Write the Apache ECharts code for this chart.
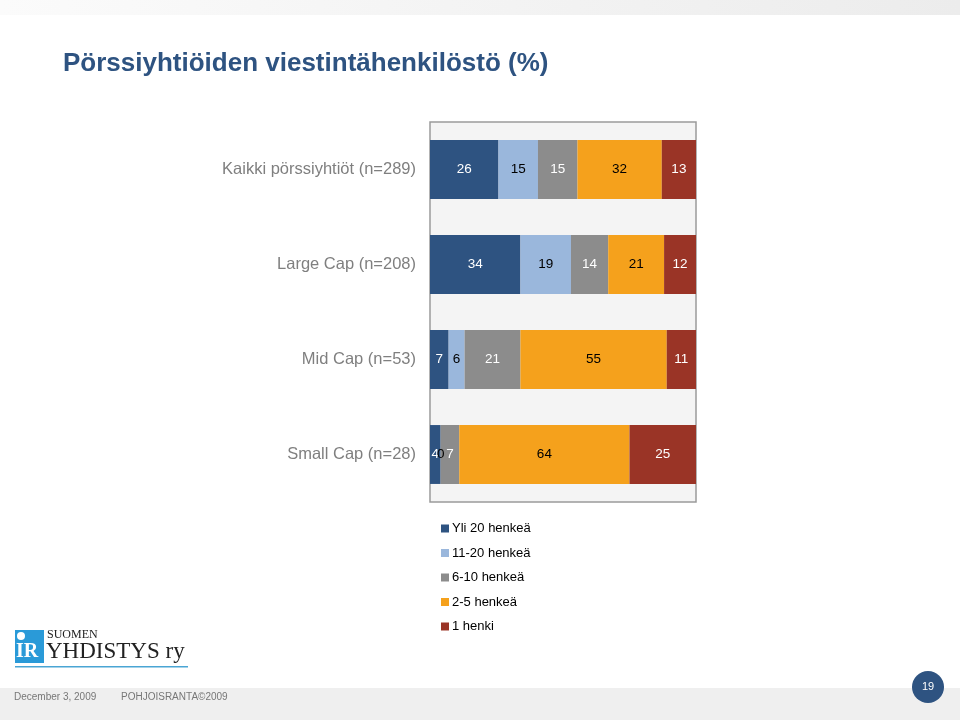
<!DOCTYPE html>
<html><head><meta charset="utf-8">
<script src="https://cdn.jsdelivr.net/npm/echarts@6/dist/echarts.min.js"></script>
<style>html,body{margin:0;padding:0;background:#fff}#c{width:960px;height:720px}</style>
</head><body><div id="c"></div>
<script>
const categories = ['Kaikki pörssiyhtiöt (n=289)', 'Large Cap (n=208)', 'Mid Cap (n=53)', 'Small Cap (n=28)'];
const seriesNames = ['Yli 20 henkeä', '11-20 henkeä', '6-10 henkeä', '2-5 henkeä', '1 henki'];
const yli20 = [26, 34, 7, 4];
const h11_20 = [15, 19, 6, 0];
const h6_10 = [15, 14, 21, 7];
const h2_5 = [32, 21, 55, 64];
const h1 = [13, 12, 11, 25];

const allData = [yli20, h11_20, h6_10, h2_5, h1];
const colors = ['#2e5381', '#9ab7dc', '#8c8c8c', '#f5a11c', '#9a3426'];
const labelColors = ['#ffffff', '#000000', '#ffffff', '#000000', '#ffffff'];
const totals = categories.map((_, i) => allData.reduce((s, a) => s + a[i], 0));

const chart = echarts.init(document.getElementById('c'));
const series = allData.map((arr, k) => ({
  name: seriesNames[k],
  type: 'bar',
  stack: 'total',
  barCategoryGap: '38%',
  itemStyle: { color: colors[k] },
  label: {
    show: true, position: 'inside', color: labelColors[k],
    fontFamily: 'Liberation Sans, Arial', fontSize: 13.5,
    formatter: p => String(arr[p.dataIndex])
  },
  data: arr.map((v, i) => v / totals[i] * 100)
}));

chart.setOption({
  animation: false,
  backgroundColor: '#ffffff',
  title: {
    text: 'Pörssiyhtiöiden viestintähenkilöstö (%)',
    left: 58, top: 46,
    textStyle: { color: '#2e5381', fontSize: 26, fontWeight: 'bold', fontFamily: 'Liberation Sans Narrow, Arial Narrow, Liberation Sans, Arial' }
  },
  legend: {
    orient: 'vertical', left: 436, top: 517, itemGap: 11.5,
    itemWidth: 8, itemHeight: 8, icon: 'rect',
    textStyle: { color: '#000', fontSize: 13, fontFamily: 'Liberation Sans, Arial', padding: [0, 0, 0, -2] },
    data: seriesNames
  },
  grid: {
    left: 430, right: 264, top: 122, height: 380,
    show: true, backgroundColor: '#f4f4f4', borderColor: '#9a9a9a', borderWidth: 1.5
  },
  xAxis: { type: 'value', min: 0, max: 100, show: false },
  yAxis: {
    type: 'category', inverse: true, data: categories,
    axisLine: { show: false }, axisTick: { show: false },
    axisLabel: { color: '#7f7f7f', fontSize: 16.5, margin: 14, fontFamily: 'Liberation Sans, Arial' }
  },
  graphic: [
    { type: 'rect', shape: { x: 0, y: 0, width: 960, height: 15 }, style: { fill: new echarts.graphic.LinearGradient(0, 0, 1, 0, [{ offset: 0, color: '#fbfbfb' }, { offset: 1, color: '#ececec' }]) }, z: -1 },
    { type: 'rect', shape: { x: 0, y: 688, width: 960, height: 32 }, style: { fill: '#efefef' }, z: -1 },
    { type: 'text', left: 14, top: 692, style: { text: 'December 3, 2009', fill: '#777', fontSize: 10, fontFamily: 'Liberation Sans, Arial' } },
    { type: 'text', left: 121, top: 692, style: { text: 'POHJOISRANTA©2009', fill: '#777', fontSize: 10, fontFamily: 'Liberation Sans, Arial' } },
    { type: 'circle', shape: { cx: 928, cy: 687, r: 16 }, style: { fill: '#2e5381' } },
    { type: 'text', x: 928, y: 687, style: { text: '19', fill: '#fff', fontSize: 11, align: 'center', verticalAlign: 'middle', fontFamily: 'Liberation Sans, Arial' } },
    // logo
    { type: 'rect', shape: { x: 15, y: 630, width: 29, height: 33 }, style: { fill: '#2a9ad8' } },
    { type: 'circle', shape: { cx: 21, cy: 636, r: 4 }, style: { fill: '#ffffff' } },
    { type: 'text', left: 16, top: 642, style: { text: 'IR', fill: '#fff', fontSize: 20, fontWeight: 'bold', fontFamily: 'Liberation Serif, Times New Roman' } },
    { type: 'text', left: 47, top: 629, style: { text: 'SUOMEN', fill: '#222', fontSize: 12, fontFamily: 'Liberation Serif, Times New Roman' } },
    { type: 'text', left: 46, top: 640, style: { text: 'YHDISTYS ry', fill: '#222', fontSize: 23, fontFamily: 'Liberation Serif, Times New Roman' } },
    { type: 'rect', shape: { x: 15, y: 666, width: 173, height: 1.5 }, style: { fill: '#4aa5d4' } }
  ],
  series: series
});
</script></body></html>
